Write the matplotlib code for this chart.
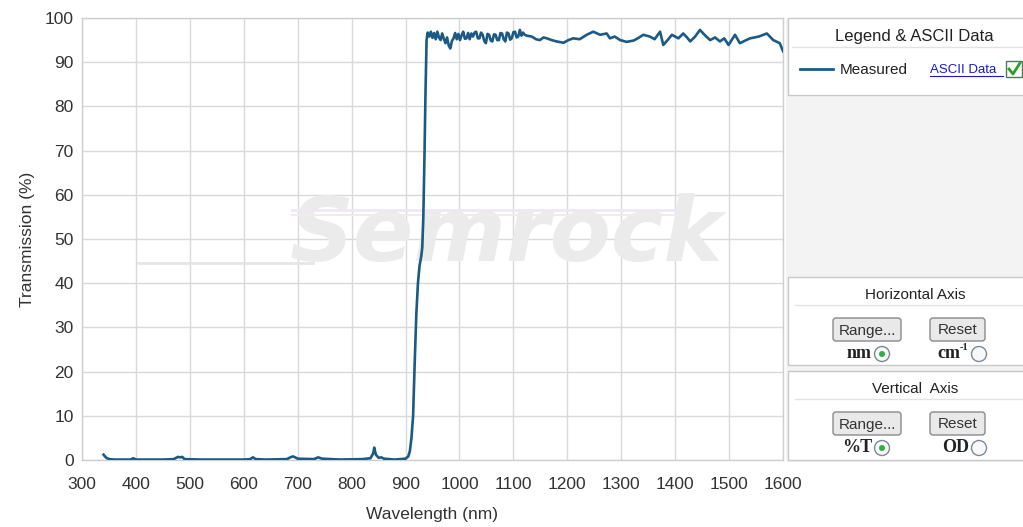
import matplotlib
matplotlib.use("Agg")
import matplotlib.pyplot as plt
from matplotlib.patches import Rectangle, FancyBboxPatch, Circle

plt.rcParams['font.family'] = ['Liberation Sans', 'DejaVu Sans']

# ---------------- data ----------------
wl_base = [340, 342, 345, 350, 360, 380, 390, 395, 400, 420, 450, 470, 478, 482, 486, 490,
           520, 560, 600, 612, 617, 622, 640, 680, 688, 692, 700, 730, 738, 745, 780, 820,
           835, 840, 842, 845, 850, 855, 860, 880, 900, 905]
t_base = [1.2, 0.9, 0.5, 0.2, 0.1, 0.1, 0.1, 0.4, 0.1, 0.1, 0.1, 0.2, 0.7, 0.6, 0.7, 0.2,
          0.1, 0.1, 0.1, 0.2, 0.6, 0.2, 0.1, 0.2, 0.7, 0.8, 0.3, 0.2, 0.6, 0.3, 0.1, 0.2,
          0.4, 1.5, 2.8, 1.2, 0.5, 0.6, 0.3, 0.1, 0.3, 0.8]

wl_edge = [908, 911, 914, 917, 920, 923, 926, 929, 931, 933, 935, 937, 939]
t_edge = [2, 5, 10, 22, 33, 40, 44, 46, 48, 55, 68, 83, 95]

wl_top = [941, 944, 947, 950, 953, 956, 959, 962, 965, 968, 971, 974, 977, 980, 983, 986,
          989, 992, 995, 998, 1001, 1004, 1007, 1010, 1013, 1016, 1019, 1022, 1025, 1028,
          1031, 1034, 1037, 1040, 1043, 1046, 1049, 1052, 1055, 1058, 1061, 1064, 1067,
          1070, 1073, 1076, 1079, 1082, 1085, 1088, 1091, 1094, 1097, 1100, 1103, 1106,
          1109, 1112, 1115, 1118, 1121, 1125, 1134, 1142, 1149, 1156, 1162, 1171, 1180,
          1193, 1202, 1211, 1223, 1236, 1248, 1261, 1273, 1279, 1288, 1298, 1310, 1323,
          1332, 1341, 1353, 1362, 1372, 1378, 1386, 1394, 1406, 1415, 1422, 1428, 1437,
          1446, 1456, 1465, 1474, 1483, 1491, 1499, 1511, 1520, 1530, 1539, 1555, 1570,
          1582, 1594, 1600]
t_top = [96.7, 95.8, 96.9, 95.5, 96.6, 95.2, 96.9, 95.6, 95.0, 96.5, 95.3, 94.3, 95.6, 93.8,
         93.1, 94.8, 95.4, 96.6, 95.2, 96.4, 95.0, 96.1, 96.9, 95.3, 95.4, 96.6, 95.2, 96.5,
         95.8, 96.7, 96.9, 95.4, 95.4, 96.7, 96.2, 94.8, 94.3, 96.4, 96.2, 94.9, 94.7, 96.3,
         96.2, 95.0, 95.0, 96.6, 96.5, 95.2, 94.7, 96.7, 96.5, 95.1, 95.4, 96.8, 96.9, 95.6,
         95.8, 97.3, 96.0, 96.7, 96.2, 96.0, 95.8, 95.2, 95.0, 95.6, 95.4, 95.0, 94.7,
         94.4, 95.0, 95.4, 95.2, 96.2, 96.9, 96.2, 96.5, 95.4, 95.8, 95.0, 94.6, 94.9,
         95.5, 96.2, 95.8, 95.2, 96.9, 93.9, 95.0, 96.2, 95.4, 96.5, 95.6, 94.7, 95.8,
         97.3, 96.0, 95.0, 95.6, 94.7, 95.4, 93.9, 96.2, 94.3, 94.9, 95.4, 95.8, 96.5,
         95.0, 94.3, 92.5]

wavelength = wl_base + wl_edge + wl_top
transmission = t_base + t_edge + t_top

x_ticks = [300, 400, 500, 600, 700, 800, 900, 1000, 1100, 1200, 1300, 1400, 1500, 1600]
y_ticks = [0, 10, 20, 30, 40, 50, 60, 70, 80, 90, 100]

# ---------------- figure ----------------
W, H = 1023, 527
fig = plt.figure(figsize=(W / 100, H / 100), dpi=100)
fig.patch.set_facecolor("white")

def fx(px):
    return px / W

def fy(py):
    return 1 - py / H

ax = fig.add_axes([fx(82), fy(460), fx(783) - fx(82), fy(18) - fy(460)])
ax.plot(wavelength, transmission, color="#1b5a84", lw=1.9, zorder=3, solid_joinstyle="round")
ax.set_xlim(300, 1600)
ax.set_ylim(0, 100)
ax.set_xticks(x_ticks)
ax.set_yticks(y_ticks)
ax.grid(True, color="#d9d9d9", lw=1.0)
ax.set_axisbelow(True)
for s in ax.spines.values():
    s.set_color("#cfcfcf")
    s.set_linewidth(1.0)
ax.tick_params(length=0, labelsize=12.5, labelcolor="#333333")
ax.tick_params(axis="x", pad=12)
ax.tick_params(axis="y", pad=6)
ax.set_xlabel("Wavelength (nm)", fontsize=12.5, color="#333333", labelpad=11)
ax.set_ylabel("Transmission (%)", fontsize=12.5, color="#333333", labelpad=7)

# watermark
ax.text(0.605, 0.505, "Semrock", transform=ax.transAxes, fontsize=64, fontweight="bold",
        fontstyle="italic", family="DejaVu Sans", color="#ebebeb", ha="center", va="center",
        zorder=1)
ax.plot([0.08, 0.33], [0.445, 0.445], transform=ax.transAxes, color="#e6e6e6", lw=2, zorder=1)
ax.plot([0.30, 0.85], [0.565, 0.565], transform=ax.transAxes, color="#ece8f4", lw=2, zorder=1)
ax.plot([0.30, 0.85], [0.555, 0.555], transform=ax.transAxes, color="#f1ecec", lw=1.5, zorder=1)

# ---------------- right panel ----------------
pa = fig.add_axes([0, 0, 1, 1], zorder=-1)
pa.set_xlim(0, W)
pa.set_ylim(H, 0)
pa.axis("off")
pa.patch.set_alpha(0)

pa.add_patch(Rectangle((786, 18), 237, 444, facecolor="#f3f3f3", edgecolor="none"))
txtc = "#222222"

# legend box
pa.add_patch(Rectangle((788, 18), 240, 77, facecolor="white", edgecolor="#c8c8c8", lw=1))
pa.text(914, 37, "Legend & ASCII Data", ha="center", va="center", fontsize=12, color=txtc)
pa.plot([792, 1023], [47, 47], color="#e2e2e2", lw=1)
pa.plot([800, 833], [69, 69], color="#1b5a84", lw=2)
pa.text(840, 70, "Measured", ha="left", va="center", fontsize=11, color=txtc)
pa.text(930, 70, "ASCII Data", ha="left", va="center", fontsize=9.5, color="#1a1acc")
pa.plot([930, 1003], [76, 76], color="#1a1acc", lw=0.8)
pa.add_patch(Rectangle((1006, 61), 16, 16, facecolor="white", edgecolor="#557755", lw=1))
pa.plot([1009, 1013, 1020], [69, 74, 63], color="#2aa02a", lw=2)

def button(x0, y0, w, h, label):
    pa.add_patch(FancyBboxPatch((x0, y0), w, h, boxstyle="round,pad=0,rounding_size=3",
                                facecolor="#e9e9e9", edgecolor="#8a8a8a", lw=1))
    pa.text(x0 + w / 2, y0 + h / 2 + 1, label, ha="center", va="center", fontsize=11, color="#333333")

def radio(cx, cy, on):
    pa.add_patch(Circle((cx, cy), 7.5, facecolor="#f8f8f8", edgecolor="#7a8a9a", lw=1))
    if on:
        pa.add_patch(Circle((cx, cy), 3, facecolor="#2fb040", edgecolor="none"))

def axis_box(y0, h, title, lab1, lab2, sup2, on1):
    pa.add_patch(Rectangle((788, y0), 240, h, facecolor="white", edgecolor="#c8c8c8", lw=1))
    pa.text(915, y0 + 18, title, ha="center", va="center", fontsize=11, color=txtc)
    pa.plot([795, 1023], [y0 + 28, y0 + 28], color="#e2e2e2", lw=1)
    button(833, y0 + 41, 68, 23, "Range...")
    button(930, y0 + 41, 55, 23, "Reset")
    pa.text(872, y0 + 77, lab1, ha="right", va="center", fontsize=13, fontweight="bold",
            family="Liberation Serif", color=txtc)
    radio(882, y0 + 77, on1)
    if sup2:
        pa.text(960, y0 + 77, lab2, ha="right", va="center", fontsize=13, fontweight="bold",
                family="Liberation Serif", color=txtc)
        pa.text(960, y0 + 71, sup2, ha="left", va="center", fontsize=7.5, fontweight="bold",
                family="Liberation Serif", color=txtc)
    else:
        pa.text(969, y0 + 77, lab2, ha="right", va="center", fontsize=13, fontweight="bold",
                family="Liberation Serif", color=txtc)
    radio(979, y0 + 77, not on1)

axis_box(277, 88, "Horizontal Axis", "nm", "cm", "-1", True)
axis_box(371, 89, "Vertical  Axis", "%T", "OD", None, True)

fig.savefig("out.png", dpi=100)
